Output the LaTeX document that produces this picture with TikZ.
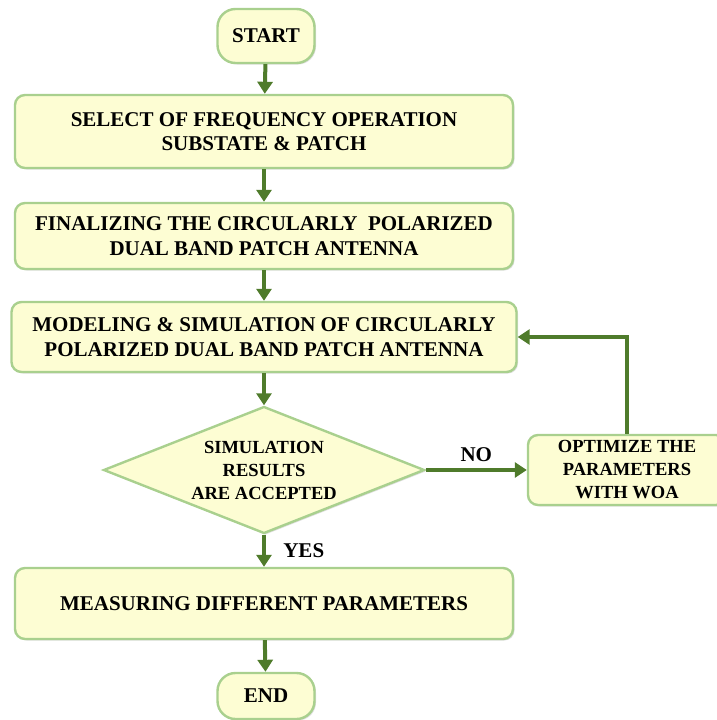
\documentclass[tikz,border=0pt]{standalone}
\usepackage{fontspec}
\setmainfont{Liberation Serif}
\usetikzlibrary{arrows.meta,shapes.geometric,shadows}

\begin{document}
\begin{tikzpicture}[
    x=1pt, y=1pt,
    pbox/.style={
        draw=edgegreen, line width=2.4pt, fill=boxfill, rounded corners=10pt,
        minimum width=498pt, minimum height=70pt, align=center, inner sep=2pt,
        font=\fontsize{21}{24.5}\selectfont\bfseries,
        drop shadow={opacity=0.25, shadow xshift=1.5pt, shadow yshift=-1.5pt}
    },
    tbox/.style={
        pbox, minimum width=97pt, rounded corners=18pt
    },
    sbox/.style={
        pbox, minimum width=198pt, font=\fontsize{18.5}{23}\selectfont\bfseries
    },
    dbox/.style={
        draw=edgegreen, line width=2.4pt, fill=boxfill, diamond, aspect=2.5,
        minimum width=321pt, minimum height=127pt, inner sep=0pt, align=center,
        font=\fontsize{18.5}{23}\selectfont\bfseries,
        drop shadow={opacity=0.25, shadow xshift=1.5pt, shadow yshift=-1.5pt}
    },
    arr/.style={-{Triangle[width=15pt,length=12pt]}, line width=4pt, arrowgreen},
    lbl/.style={font=\fontsize{21}{24}\selectfont\bfseries, text=black}
]

% Colours of the chart
\definecolor{boxfill}{HTML}{FDFDD3}
\definecolor{edgegreen}{HTML}{A9D08E}
\definecolor{arrowgreen}{HTML}{4F7B2B}

\useasboundingbox (0,0) rectangle (716,-720);

% Main column, top to bottom
\node[tbox, minimum height=54pt] (start) at (266,-36) {START};
\node[pbox, minimum height=73pt] (select) at (264,-131.5) {SELECT OF FREQUENCY OPERATION\\SUBSTATE \& PATCH};
\node[pbox, minimum height=66pt] (final) at (264,-236) {FINALIZING THE CIRCULARLY\ \ POLARIZED\\DUAL BAND PATCH ANTENNA};
\node[pbox, minimum width=505pt] (model) at (264,-337) {MODELING \& SIMULATION OF CIRCULARLY\\POLARIZED DUAL BAND PATCH ANTENNA};
\node[dbox] (check) at (264,-470) {SIMULATION\\RESULTS\\ARE ACCEPTED};
\node[pbox, minimum height=71pt] (measure) at (264,-603.5) {MEASURING DIFFERENT PARAMETERS};
\node[tbox, minimum height=46pt] (end) at (266,-696) {END};

% Side box for the optimisation loop
\node[sbox] (optim) at (627,-470) {OPTIMIZE THE\\PARAMETERS\\WITH WOA};

% Connectors
\draw[arr] (start) -- (select);
\draw[arr] (select) -- (final);
\draw[arr] (final) -- (model);
\draw[arr] (model) -- (check.north);
\draw[arr] (check.south) -- node[lbl, right=14pt] {YES} (measure);
\draw[arr] (measure) -- (end);
\draw[arr] (check.east) -- node[lbl, above=3pt] {NO} (optim.west);
\draw[arr] (optim.north) |- (model.east);

\end{tikzpicture}
\end{document}
